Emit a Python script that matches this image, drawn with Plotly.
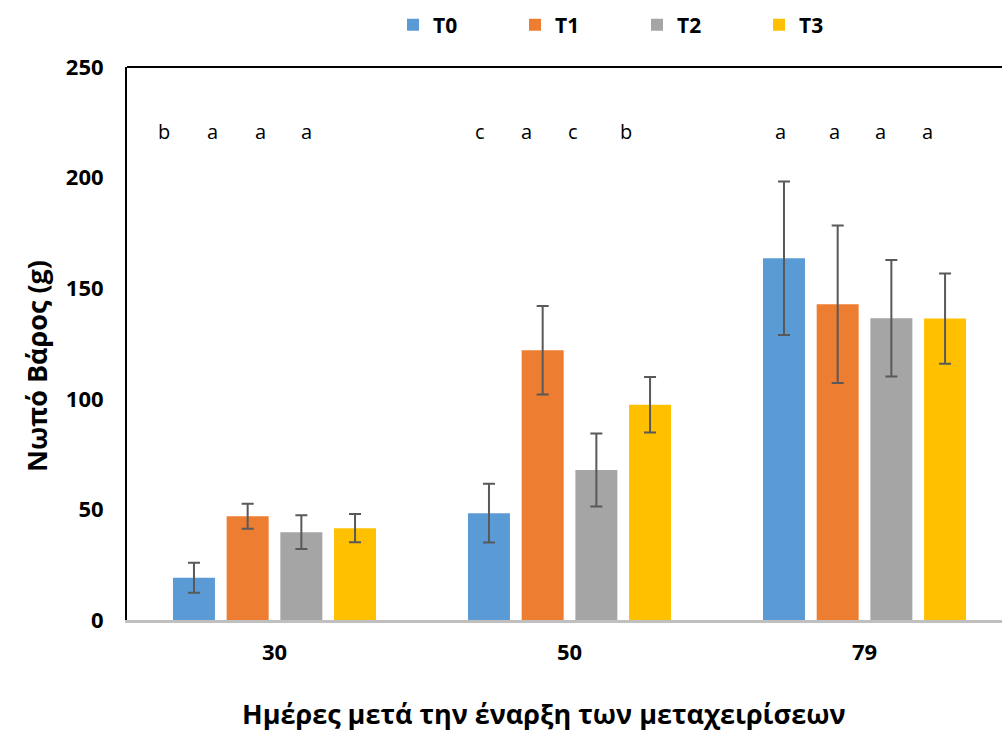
import plotly.graph_objects as go

# ---- data ----
days = ["30", "50", "79"]
series = ["T0", "T1", "T2", "T3"]
t0_vals = [19.1, 48.3, 163.5]
t1_vals = [46.9, 122.0, 142.7]
t2_vals = [39.7, 67.8, 136.4]
t3_vals = [41.5, 97.3, 136.3]
t0_err = [6.8, 13.3, 34.7]
t1_err = [5.6, 20.0, 35.6]
t2_err = [7.6, 16.5, 26.3]
t3_err = [6.4, 12.5, 20.4]
letters_30 = ["b", "a", "a", "a"]
letters_50 = ["c", "a", "c", "b"]
letters_79 = ["a", "a", "a", "a"]
y_ticks = [0, 50, 100, 150, 200, 250]
x_title = "Ημέρες μετά την έναρξη των μεταχειρίσεων"
y_title = "Νωπό Βάρος (g)"

# ---- style / layout ----
W, H = 1002, 733
ML, MR, MT, MB = 127, 0, 67, 113
colors = ["#5B9BD5", "#ED7D31", "#A5A5A5", "#FFC000"]
letter_dx = [
    [-0.375, -0.209, -0.049, 0.109],
    [-0.303, -0.147, 0.011, 0.191],
    [-0.286, -0.103, 0.055, 0.214],
]
letter_y = 221
FONT = "Open Sans"

pw = W - ML - MR
ph = H - MT - MB


def px_to_paper(xp, yp):
    return (xp - ML) / pw, (H - MB - yp) / ph


values = [t0_vals, t1_vals, t2_vals, t3_vals]
errors = [t0_err, t1_err, t2_err, t3_err]
letters = [letters_30, letters_50, letters_79]

fig = go.Figure()
for name, vals, err, col in zip(series, values, errors, colors):
    fig.add_trace(go.Bar(
        x=days, y=vals, name=name,
        marker=dict(color=col, line=dict(width=0)),
        error_y=dict(type="data", array=err, visible=True,
                     color="#595959", thickness=2, width=6),
    ))

annotations = []
for gi, labs in enumerate(letters):
    for li, lab in enumerate(labs):
        annotations.append(dict(
            x=gi + letter_dx[gi][li], y=letter_y, xref="x", yref="y",
            text=lab, showarrow=False,
            font=dict(family=FONT, size=20, color="#000000"),
        ))

xtx, xty = px_to_paper(544, 714)
annotations.append(dict(
    x=xtx, y=xty, xref="paper", yref="paper", text=x_title,
    xanchor="center", yanchor="middle", showarrow=False,
    font=dict(family=FONT, size=27, color="#000000", weight="bold"),
))
ytx, yty = px_to_paper(37, 366)
annotations.append(dict(
    x=ytx, y=yty, xref="paper", yref="paper", text=y_title, textangle=-90,
    xanchor="center", yanchor="middle", showarrow=False,
    font=dict(family=FONT, size=27, color="#000000", weight="bold"),
))

lgx, lgy = px_to_paper(393, 25)

fig.update_layout(
    width=W, height=H,
    margin=dict(l=ML, r=MR, t=MT, b=MB),
    paper_bgcolor="white", plot_bgcolor="white",
    barmode="group", bargap=0.272, bargroupgap=0.218,
    showlegend=True,
    legend=dict(orientation="h", x=lgx, xanchor="left", y=lgy, yanchor="middle",
                entrywidth=77, entrywidthmode="pixels",
                font=dict(family=FONT, size=21, color="#000000", weight="bold")),
    xaxis=dict(type="category", range=[-0.5, 2.466], showline=True,
               linecolor="#BFBFBF", linewidth=2.5, showgrid=False,
               ticks="outside", ticklen=11, tickcolor="rgba(0,0,0,0)",
               tickfont=dict(family=FONT, size=22, color="#000000", weight="bold")),
    yaxis=dict(range=[0, 250], tickvals=y_ticks, showline=True, linecolor="#000000",
               linewidth=2, showgrid=False, zeroline=False,
               ticks="outside", ticklen=17, tickcolor="rgba(0,0,0,0)",
               tickfont=dict(family=FONT, size=22, color="#000000", weight="bold")),
    annotations=annotations,
)

fig.add_shape(type="line", xref="paper", yref="paper", x0=0, x1=1, y0=1, y1=1,
              line=dict(color="#000000", width=2))

fig.write_html("out.html", config={"displayModeBar": False},
               post_script="document.body.style.margin='0';")
